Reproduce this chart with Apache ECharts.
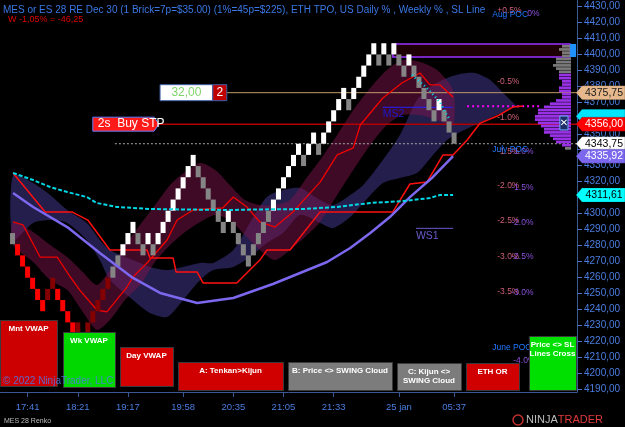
<!DOCTYPE html>
<html><head><meta charset="utf-8">
<script src="https://cdn.jsdelivr.net/npm/echarts@6/dist/echarts.min.js"></script>
<style>html,body{margin:0;padding:0;background:#000;overflow:hidden}#c{width:625px;height:427px}</style>
</head><body><div id="c"></div>
<script>
// ---------- DATA ----------
const N_CATS = 115;
const tickIndex = [5, 15, 25, 36, 46, 56, 66, 79, 90];
const tickLabels = ['17:41', '18:21', '19:17', '19:58', '20:35', '21:05', '21:33', '25 jan', '05:37'];
const brickSize = 7;
const brickStart = 2;
const brickLow = [
 4280.75,4273.75,4266.75,4259.75,4252.75,4245.75,4238.75,4245.75,4252.75,4245.75,
 4238.75,4231.75,4224.75,4224.75,4217.75,4224.75,4231.75,4238.75,4245.75,4252.75,
 4259.75,4266.75,4273.75,4280.75,4287.75,4280.75,4273.75,4280.75,4273.75,4280.75,
 4287.75,4294.75,4301.75,4308.75,4315.75,4322.75,4329.75,4322.75,4315.75,4308.75,
 4301.75,4294.75,4287.75,4294.75,4287.75,4280.75,4273.75,4266.75,4273.75,4280.75,
 4287.75,4294.75,4301.75,4308.75,4315.75,4322.75,4329.75,4336.75,4329.75,4336.75,
 4343.75,4336.75,4343.75,4350.75,4357.75,4364.75,4371.75,4364.75,4371.75,4378.75,
 4385.75,4392.75,4399.75,4392.75,4399.75,4392.75,4399.75,4392.75,4385.75,4392.75,
 4385.75,4378.75,4371.75,4364.75,4357.75,4364.75,4357.75,4350.75,4343.75];
const brickType = [
 'G','R','R','R','R','R','R','D','D','R',
 'R','R','R','D','R','D','D','D','D','D',
 'G','G','W','W','W','G','G','W','G','W',
 'W','W','W','W','W','W','W','G','G','G',
 'G','G','G','W','G','G','G','G','G','G',
 'G','G','W','W','W','W','W','W','G','W',
 'W','G','W','W','W','W','W','G','W','W',
 'W','W','W','G','W','G','W','G','G','W',
 'G','G','G','G','G','W','G','G','G'];

const cyanLine = [[2.1,4325.4],[6.1,4321.0],[9.5,4316.6],[12.9,4313.5],[16.8,4310.3],[18.8,4306.6],[22.8,4304.1],[29.4,4302.8],[45.3,4302.2],[49.9,4302.5],[59.9,4302.8],[66.7,4304.1],[73.3,4306.6],[79.8,4307.8],[85.2,4309.7],[87.2,4311.6],[89.8,4311.6]];
const purpleLine = [[2.1,4312.9],[6.1,4304.1],[12.9,4291.5],[19.4,4275.2],[26.0,4259.6],[31.4,4250.2],[38.8,4243.9],[46.0,4247.0],[53.9,4255.8],[59.3,4262.7],[64.7,4269.6],[69.3,4278.4],[73.3,4287.8],[77.2,4297.8],[81.2,4310.3],[85.8,4322.9],[89.8,4335.92]];
const redLine1 = [[2.1,4325.4],[8.5,4301.0],[13.85,4301.0],[17.0,4295.9],[21.4,4277.1],[28.8,4277.1],[29.4,4272.1],[34.0,4272.1],[34.6,4263.3],[38.8,4263.3],[40.0,4256.4],[46.7,4256.4],[51.3,4270.8],[52.7,4277.1],[57.3,4277.1],[63.3,4301.0],[77.8,4301.0],[81.2,4318.5],[84.6,4319.7],[87.8,4336.7],[89.8,4336.7],[92.6,4346.1],[95.2,4356.7],[98.6,4361.1],[101.8,4366.8],[103.7,4367.4]];
const redLine2 = [[2.1,4294.7],[4.1,4292.8],[7.5,4272.7],[10.9,4272.7],[13.5,4260.2],[15.4,4252.0],[18.8,4239.5],[20.8,4238.3],[24.8,4253.9],[26.0,4260.2],[28.8,4269.0],[32.8,4283.4],[34.8,4295.9],[38.0,4302.2],[43.9,4303.5],[46.0,4310.3],[48.7,4304.1],[51.3,4294.7],[54.3,4291.5],[57.9,4301.0],[63.3,4319.7],[66.7,4336.7],[69.9,4341.1],[71.3,4355.5],[75.8,4372.4],[79.6,4381.8],[83.2,4388.1],[85.2,4380.6],[87.2,4380.6],[89.8,4373.0]];
const cyanDots = [[81.6,4386.8],[84.6,4378.7],[87.2,4369.9],[88.2,4363.6],[89.2,4358.6]];

const navyX = [2.1,6.1,9.5,12.9,16.8,19.4,21.4,26.0,29.4,32.8,36.0,39.4,42.0,46.0,49.3,52.7,55.9,59.3,63.3,65.9,69.3,71.9,75.8,79.2,82.6,85.8,88.6,91.2,94.2,97.2,99.8,101.8,102.8];
const navyUp = [4324.1,4319.1,4311.6,4302.2,4294.1,4283.4,4277.1,4270.8,4266.5,4264.6,4266.5,4269.0,4269.0,4277.1,4294.1,4310.3,4314.7,4316.0,4308.5,4305.3,4311.6,4317.9,4333.5,4349.2,4371.2,4380.6,4385.0,4387.5,4388.1,4383.7,4375.5,4369.3,4366.8];
const navyLow = [4283.4,4294.1,4295.9,4294.1,4283.4,4270.8,4258.3,4245.8,4237.6,4235.1,4245.8,4258.3,4264.6,4266.5,4272.7,4281.5,4287.8,4299.1,4294.1,4290.9,4297.8,4306.6,4319.1,4322.3,4325.4,4336.7,4346.1,4351.1,4355.5,4359.9,4363.6,4366.8,4366.8];
const maroonX = [2.1,6.1,9.5,12.9,16.0,18.8,21.4,24.4,27.4,30.4,33.4,36.4,39.4,42.4,45.3,48.3,51.3,54.3,57.3,60.3,63.3,66.7,69.9,73.3,76.6,79.8,83.2,86.6,89.8];
const maroonUp = [4294.7,4288.4,4280.2,4272.7,4263.3,4255.2,4264.6,4280.2,4292.8,4305.3,4317.9,4326.0,4331.7,4327.3,4317.9,4308.5,4305.3,4305.3,4308.5,4321.0,4333.5,4349.2,4364.9,4378.7,4390.0,4396.2,4395.0,4390.0,4377.4];
const maroonLow = [4280.2,4269.6,4258.3,4252.0,4238.3,4227.0,4233.2,4245.8,4255.2,4269.6,4280.2,4288.4,4294.7,4299.1,4295.9,4286.5,4277.1,4270.8,4277.1,4285.3,4294.7,4311.6,4327.3,4343.0,4355.5,4361.7,4361.7,4358.6,4355.5];

// horizontal levels: [startIdx, endIdx, price]
const tanLevel = [44.7, 114.5, 4375.75];
const stopLevel = [31.2, 114.5, 4356.00];
const lastLevel = [22.4, 114.5, 4343.75];
const magentaLevel = [92.6, 107.1, 4367.3];
const ms2Level = [75.8, 89.8, 4366.6];
const ws1Level = [82.4, 89.8, 4290.7];

// TPO profile
const profileLow = [4404,4402,4400,4398,4396,4394,4392,4390,4388,4386,4384,4382,4380,4378,4376,4374,4372,4370,4368,4366,4364,4362,4360,4358,4356,4354,4352,4350,4348,4346,4344,4342,4340];
const profileCount = [3,4,3,3,5,5,6,5,4,4,4,3,3,4,4,3,3,5,7,9,11,11,12,12,11,10,9,9,7,6,5,3,2];
const profileKind = ['g','g','g','g','g','g','g','g','g','p','p','p','p','p','p','p','p','p','p','p','p','p','p','p','p','p','p','p','p','p','p','p','g'];

// right axis price flags
const flagPrice = [4375.75, 4361.0, 4356.00, 4343.75, 4335.92, 4311.61];
const flagText = ['4375,75', '', '4356,00', '4343,75', '4335,92', '4311,61'];
const flagBg = ['#e6b88c', '#00e5ff', '#ff0000', '#ffffff', '#7b68ee', '#00ffff'];
const flagFg = ['#1a1a1a', '#000000', '#ffffff', '#000000', '#ffffff', '#000000'];

// text labels on chart: [idx, price, text, colour]
const PINK = '#cd5f78', PURP = '#8c50dc', POCB = '#1e78ff';
const chartLabels = [
 [98.6,4427.3,'+0.5%',PINK],[97.6,4424.5,'Aug POC',POCB],[104.6,4425.0,'0%',PURP],
 [98.6,4382.6,'-0.5%',PINK],[98.6,4360.3,'-1.0%',PINK],
 [98.6,4338.6,'-1.5%',PINK],[101.4,4338.6,'-1.0%',PURP],[97.6,4340.3,'July POC',POCB],
 [98.6,4317.2,'-2.0%',PINK],[101.4,4316.0,'-1.5%',PURP],
 [98.6,4295.3,'-2.5%',PINK],[101.4,4294.0,'-2.0%',PURP],
 [98.6,4272.7,'-3.0%',PINK],[101.4,4272.7,'-2.5%',PURP],
 [98.6,4250.8,'-3.5%',PINK],[101.4,4250.2,'-3.0%',PURP],
 [97.6,4215.7,'June POC',POCB],[101.8,4207.5,'-4.0%',PURP]
];
const pivotLabels = [[75.8,4362.4,'MS2','#1a1acd'],[82.4,4285.9,'WS1','#6a5acd']];

// ---------- CHART ----------
const cats = new Array(N_CATS).fill('');
tickIndex.forEach((k, j) => { cats[k] = tickLabels[j]; });
const brickColor = { W: '#ffffff', G: '#858585', R: '#ff0000', D: '#850000' };

const chart = echarts.init(document.getElementById('c'), null, { width: 625, height: 427 });

function cloud(xs, up, low, fill, z) {
  return {
    type: 'custom', xAxisIndex: 1, yAxisIndex: 0, z: z, silent: true,
    data: xs.map((x, i) => [x, up[i], low[i]]),
    encode: { x: 0, y: [1, 2] },
    renderItem: (params, api) => {
      if (params.dataIndex !== 0) return null;
      const pts = [];
      for (let i = 0; i < xs.length; i++) pts.push(api.coord([xs[i], up[i]]));
      for (let i = xs.length - 1; i >= 0; i--) pts.push(api.coord([xs[i], low[i]]));
      return { type: 'polygon', shape: { points: pts, smooth: 0.25 }, style: { fill: fill } };
    }
  };
}
function line(data, color, width, type, z) {
  return { type: 'line', xAxisIndex: 1, yAxisIndex: 0, data: data, showSymbol: false, silent: true, z: z || 4,
    lineStyle: { color: color, width: width, type: type || 'solid' }, animation: false };
}
function level(l, color, width, type) {
  return line([[l[0], l[2]], [l[1], l[2]]], color, width, type, 3);
}

const option = {
  backgroundColor: '#000000',
  animation: false,
  grid: { left: 0, right: 48, top: 0, bottom: 35, containLabel: false },
  xAxis: [
    { type: 'category', data: cats, boundaryGap: true,
      axisLine: { show: true, onZero: false, lineStyle: { color: '#3a5894', width: 1 } },
      axisTick: { show: true, alignWithLabel: true, length: 5, interval: (i) => cats[i] !== '', lineStyle: { color: '#3a5894' } },
      axisLabel: { interval: (i) => cats[i] !== '', color: '#4a7de0', fontSize: 9.5, fontFamily: 'Arial', margin: 10 },
      splitLine: { show: false } },
    { type: 'value', min: -0.5, max: N_CATS - 0.5, show: false, axisLine: { onZero: false } },
    { type: 'value', min: 0, max: 192, inverse: true, show: false, axisLine: { onZero: false } }
  ],
  yAxis: [{
    type: 'value', position: 'right', min: 4188.09, max: 4433.86, splitNumber: 24, scale: true,
    axisLine: { show: true, onZero: false, lineStyle: { color: '#3a5894', width: 1 } },
    axisTick: { show: true, length: 5, lineStyle: { color: '#4a72c4' } },
    axisLabel: { color: '#4a7de0', fontSize: 10, fontFamily: 'Arial', margin: 7, showMinLabel: false, showMaxLabel: false,
      formatter: (v) => v.toFixed(2).replace('.', ',') },
    splitLine: { show: false }
  }],
  series: [
    cloud(navyX, navyUp, navyLow, 'rgba(70,60,150,0.5)', 1),
    cloud(maroonX, maroonUp, maroonLow, 'rgba(125,20,75,0.5)', 1),
    { type: 'custom', xAxisIndex: 1, yAxisIndex: 0, z: 2, silent: true,
      data: [[77.8, 113.1, 4398.1, 4406.3]],
      renderItem: (params, api) => {
        const a = api.coord([api.value(0), api.value(3)]);
        const b = api.coord([api.value(1), api.value(2)]);
        return { type: 'rect', shape: { x: a[0], y: a[1], width: b[0] - a[0], height: b[1] - a[1] },
          style: { fill: '#1c0006', stroke: '#9b30ff', lineWidth: 1.5 } };
      } },
    level(tanLevel, '#c19a6b', 1),
    level(stopLevel, '#b00000', 1.5),
    level(lastLevel, '#a8a8a8', 1, [2, 2]),
    level(magentaLevel, '#ff00ff', 2, [2, 3]),
    level(ms2Level, '#2222ff', 1),
    level(ws1Level, '#6a5acd', 1),
    line(redLine1, '#ff1010', 1.5, 'solid', 4),
    line(redLine2, '#f00000', 1.3, 'solid', 4),
    { type: 'custom', xAxisIndex: 1, yAxisIndex: 0, z: 5, silent: true,
      data: brickLow.map((lo, i) => [brickStart + i, lo, lo + brickSize, i]),
      encode: { x: 0, y: [1, 2] },
      renderItem: (params, api) => {
        const x = api.value(0);
        const top = api.coord([x, api.value(2)]);
        const bot = api.coord([x, api.value(1)]);
        const w = api.size([1, 0])[0];
        const t = brickType[api.value(3)];
        return { type: 'rect', shape: { x: top[0] - w / 2, y: top[1], width: w, height: bot[1] - top[1] },
          style: { fill: brickColor[t] } };
      } },
    line(purpleLine, '#7b68ee', 2.5, 'solid', 6),
    line(cyanLine, '#00d8e6', 2, [4, 2], 6),
    line(cyanDots, '#00e0ee', 2.5, [1, 3], 6),
    { type: 'custom', xAxisIndex: 2, yAxisIndex: 0, z: 6, silent: true,
      data: profileLow.map((lo, i) => [profileCount[i], lo, lo + 2, i]),
      renderItem: (params, api) => {
        const base = 2;
        const a = api.coord([base, api.value(1) + 1.7]);
        const b = api.coord([base + api.value(0), api.value(1)]);
        const k = profileKind[api.value(3)];
        return { type: 'rect', shape: { x: b[0], y: a[1], width: a[0] - b[0], height: b[1] - a[1] },
          style: { fill: k === 'p' ? '#9932e6' : '#7a7a7a' } };
      } },
    { type: 'custom', xAxisIndex: 2, yAxisIndex: 0, z: 7, silent: true,
      data: [[0.3, 2.3, 4398.1, 4406.3, 0], [3, 5.7, 4352.4, 4361.1, 1]],
      renderItem: (params, api) => {
        const a = api.coord([api.value(1), api.value(3)]);
        const b = api.coord([api.value(0), api.value(2)]);
        const shape = { x: a[0], y: a[1], width: b[0] - a[0], height: b[1] - a[1] };
        if (api.value(4) === 0) return { type: 'rect', shape: shape, style: { fill: '#1e90ff' } };
        return { type: 'group', children: [
          { type: 'rect', shape: shape, style: { fill: '#1d2f66', stroke: '#6fa8ff', lineWidth: 1 } },
          { type: 'text', x: (a[0] + b[0]) / 2, y: (a[1] + b[1]) / 2,
            style: { text: '✕', fill: '#ffffff', font: 'bold 10px "DejaVu Sans"', align: 'center', verticalAlign: 'middle' } }
        ] };
      } },
    { type: 'custom', xAxisIndex: 1, yAxisIndex: 0, z: 8, silent: true, clip: false,
      data: chartLabels.map((d, i) => [d[0], d[1], i]),
      renderItem: (params, api) => {
        const d = chartLabels[api.value(2)];
        const p = api.coord([d[0], d[1]]);
        return { type: 'text', x: p[0], y: p[1], style: { text: d[2], fill: d[3], font: '8.5px Arial', align: 'left', verticalAlign: 'middle' } };
      } },
    { type: 'custom', xAxisIndex: 1, yAxisIndex: 0, z: 8, silent: true, clip: false,
      data: pivotLabels.map((d, i) => [d[0], d[1], i]),
      renderItem: (params, api) => {
        const d = pivotLabels[api.value(2)];
        const p = api.coord([d[0], d[1]]);
        return { type: 'text', x: p[0], y: p[1], style: { text: d[2], fill: d[3], font: '10.5px Arial', align: 'left', verticalAlign: 'middle' } };
      } },
    { type: 'custom', xAxisIndex: 1, yAxisIndex: 0, z: 9, silent: true, clip: false,
      data: [[31.4, 44.7, 4375.75, 0], [18.0, 31.2, 4356.00, 1]],
      renderItem: (params, api) => {
        const a = api.coord([api.value(0), api.value(2)]);
        const b = api.coord([api.value(1), api.value(2)]);
        const y = a[1];
        if (api.value(3) === 0) {
          const mid = b[0] - 14;
          return { type: 'group', children: [
            { type: 'rect', shape: { x: a[0], y: y - 8, width: mid - a[0], height: 16 }, style: { fill: '#ffffff', stroke: '#3e5fa8', lineWidth: 1 } },
            { type: 'rect', shape: { x: mid, y: y - 8, width: b[0] - mid, height: 16 }, style: { fill: '#c00000', stroke: '#3e5fa8', lineWidth: 1 } },
            { type: 'text', x: (a[0] + mid) / 2, y: y, style: { text: '32,00', fill: '#7fd46a', font: '12px Arial', align: 'center', verticalAlign: 'middle' } },
            { type: 'text', x: (mid + b[0]) / 2, y: y, style: { text: '2', fill: '#ffffff', font: '12px Arial', align: 'center', verticalAlign: 'middle' } }
          ] };
        }
        return { type: 'group', children: [
          { type: 'polygon', shape: { points: [[a[0], y - 7], [b[0] - 5, y - 7], [b[0], y], [b[0] - 5, y + 7], [a[0], y + 7]] },
            style: { fill: '#ff1a1a', stroke: '#5a7fff', lineWidth: 1 } },
          { type: 'text', x: a[0] + 5, y: y, style: { text: '2s  Buy STP', fill: '#ffffff', font: '12px Arial', align: 'left', verticalAlign: 'middle' } }
        ] };
      } },
    { type: 'custom', xAxisIndex: 1, yAxisIndex: 0, z: 10, silent: true, clip: false,
      data: flagPrice.map((p, i) => [N_CATS - 0.5, p, i]),
      renderItem: (params, api) => {
        const i = api.value(2);
        const p = api.coord([api.value(0), api.value(1)]);
        const x0 = p[0] - 1, y = p[1];
        return { type: 'group', children: [
          { type: 'polygon', shape: { points: [[x0, y], [x0 + 6, y - 7], [x0 + 49, y - 7], [x0 + 49, y + 7], [x0 + 6, y + 7]] },
            style: { fill: flagBg[i], stroke: 'rgba(0,0,0,0.4)', lineWidth: 0.5 } },
          { type: 'text', x: x0 + 28, y: y, style: { text: flagText[i], fill: flagFg[i], font: '10.5px Arial', align: 'center', verticalAlign: 'middle' } }
        ] };
      } }
  ],
  graphic: []
};

// UI decorations: header text, buttons, footer
const buttons = [
  { x: 0, y: 320, w: 57, h: 66, fill: '#cc0000', text: 'Mnt VWAP' },
  { x: 63, y: 332, w: 52, h: 55, fill: '#00d800', text: 'Wk VWAP' },
  { x: 120, y: 347, w: 53, h: 39, fill: '#d40000', text: 'Day VWAP' },
  { x: 178, y: 362, w: 105, h: 28, fill: '#d00000', text: 'A: Tenkan>Kijun' },
  { x: 288, y: 362, w: 104, h: 28, fill: '#7c7c7c', text: 'B: Price <> SWING Cloud' },
  { x: 397, y: 363, w: 64, h: 27, fill: '#7c7c7c', text: 'C: Kijun <>\nSWING Cloud' },
  { x: 466, y: 363, w: 53, h: 27, fill: '#d00000', text: 'ETH OR' },
  { x: 529, y: 336, w: 47, h: 54, fill: '#00e000', text: 'Price <> SL\nLines Cross' }
];
const g = option.graphic;
buttons.forEach(b => {
  g.push({ type: 'rect', left: b.x, top: b.y, shape: { width: b.w, height: b.h }, style: { fill: b.fill, stroke: '#3a3a3a', lineWidth: 1 }, z: 20 });
  g.push({ type: 'text', x: b.x + b.w / 2, y: b.y + 4, z: 21,
    style: { text: b.text, fill: '#ffffff', font: 'bold 8px Arial', align: 'center', verticalAlign: 'top', lineHeight: 9 } });
});
g.push({ type: 'text', x: 3, y: 10, z: 30, style: { text: 'MES or ES 28 RE Dec 30 (1 Brick=7p=$35.00) (1%=45p=$225), ETH TPO, US Daily % , Weekly % , SL Line', fill: '#3a78e6', font: '10px Arial', verticalAlign: 'middle' } });
g.push({ type: 'text', x: 8, y: 19.5, z: 30, style: { text: 'W -1,05% = -46,25', fill: '#e00000', font: '9px Arial', verticalAlign: 'middle' } });
g.push({ type: 'text', x: 3, y: 381, z: 30, style: { text: '© 2022 NinjaTrader, LLC', fill: 'rgba(80,120,230,0.85)', font: '10px Arial', verticalAlign: 'middle' } });
g.push({ type: 'text', x: 4, y: 421, z: 30, style: { text: 'MES 28 Renko', fill: '#bdbdbd', font: '7px Arial', verticalAlign: 'middle' } });
g.push({ type: 'circle', shape: { cx: 518, cy: 420, r: 5 }, style: { fill: 'none', stroke: '#c03030', lineWidth: 1.5 }, z: 30 });
g.push({ type: 'text', x: 526, y: 420, z: 30, style: { text: '{a|NINJA}{b|TRADER}', verticalAlign: 'middle',
  rich: { a: { fill: '#bdbdbd', font: '11px Arial' }, b: { fill: '#e03a3a', font: '11px Arial' } } } });

chart.setOption(option);
</script></body></html>
